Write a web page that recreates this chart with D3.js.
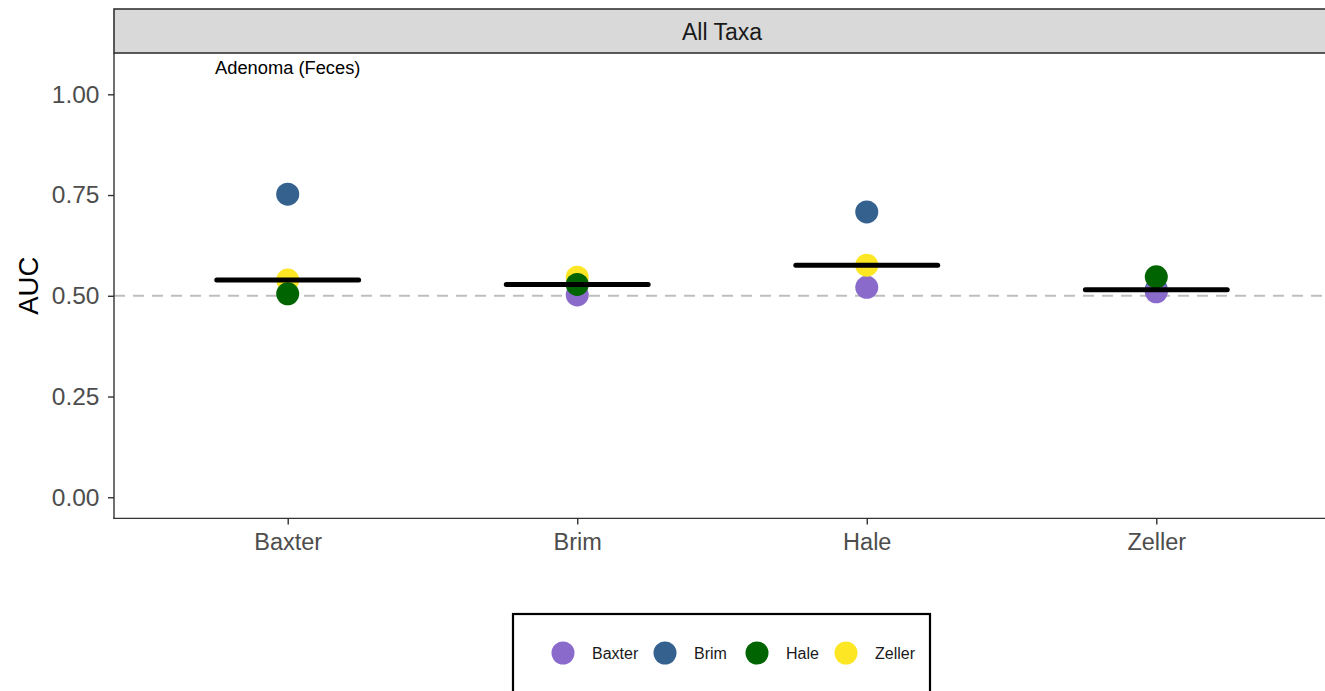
<!DOCTYPE html>
<html>
<head>
<meta charset="utf-8">
<script src="https://cdn.jsdelivr.net/npm/d3@7"></script>
<style>
  html, body { margin: 0; padding: 0; background: #fff; }
  svg { display: block; font-family: "Liberation Sans", Arial, sans-serif; }
</style>
</head>
<body>
<svg id="chart" width="1325" height="691"></svg>
<script>
// Test datasets along the x axis
const testSets = ["Baxter", "Brim", "Hale", "Zeller"];
// Training datasets (colour groups), in drawing order
const trainSets = ["Baxter", "Brim", "Hale", "Zeller"];
const drawOrder = ["Brim", "Baxter", "Zeller", "Hale"];
const trainColors = ["#8a6bcc", "#35618f", "#006400", "#fde725"];

// AUC by training set, one entry per test set (null = same study, not shown)
const aucBaxter = [null, 0.502, 0.521, 0.510];
const aucBrim   = [0.752, null, 0.708, 0.515];
const aucHale   = [0.505, 0.528, null, 0.547];
const aucZeller = [0.539, 0.546, 0.576, null];

const yTicks = [0, 0.25, 0.5, 0.75, 1.0];
const facetLabel = "All Taxa";
const panelNote = "Adenoma (Feces)";
const noteValue = 1.067;
const yLabel = "AUC";

const aucByTrain = { Baxter: aucBaxter, Brim: aucBrim, Hale: aucHale, Zeller: aucZeller };

const svg = d3.select("#chart");
const panel = { left: 114, right: 1330, top: 53, bottom: 518.4 };

const x = d3.scalePoint().domain(testSets).range([panel.left, panel.right]).padding(0.6);
const y = d3.scaleLinear().domain([-0.0525, 1.1025]).range([panel.bottom, panel.top]);
const color = d3.scaleOrdinal().domain(trainSets).range(trainColors);

// Strip header
svg.append("rect")
  .attr("x", panel.left).attr("y", 9)
  .attr("width", panel.right - panel.left + 10).attr("height", panel.top - 9)
  .attr("fill", "#d9d9d9").attr("stroke", "#333333").attr("stroke-width", 1.6);
svg.append("text")
  .attr("x", (panel.left + panel.right) / 2).attr("y", 32)
  .attr("text-anchor", "middle").attr("dominant-baseline", "central")
  .attr("font-size", 23).attr("fill", "#1a1a1a")
  .text(facetLabel);

// Chance reference line
svg.append("line")
  .attr("x1", panel.left).attr("x2", panel.right)
  .attr("y1", y(0.5)).attr("y2", y(0.5))
  .attr("stroke", "#bebebe").attr("stroke-width", 2)
  .attr("stroke-dasharray", "11,8");

// Points
const points = [];
drawOrder.forEach(train => {
  aucByTrain[train].forEach((v, i) => {
    if (v !== null) points.push({ train, test: testSets[i], auc: v });
  });
});
svg.append("g").selectAll("circle").data(points).join("circle")
  .attr("cx", d => x(d.test)).attr("cy", d => y(d.auc))
  .attr("r", 11.5).attr("fill", d => color(d.train));

// Median bars per test set
const medians = testSets.map((t, i) => ({
  test: t,
  med: d3.median(trainSets.map(tr => aucByTrain[tr][i]).filter(v => v !== null))
}));
const halfW = x.step() * 0.245;
svg.append("g").selectAll("line").data(medians).join("line")
  .attr("x1", d => x(d.test) - halfW).attr("x2", d => x(d.test) + halfW)
  .attr("y1", d => y(d.med)).attr("y2", d => y(d.med))
  .attr("stroke", "#000").attr("stroke-width", 5).attr("stroke-linecap", "round");

// Panel note
svg.append("text")
  .attr("x", x("Baxter")).attr("y", y(noteValue))
  .attr("text-anchor", "middle").attr("dominant-baseline", "central")
  .attr("font-size", 18.3).attr("fill", "#000")
  .text(panelNote);

// Y axis
const yAxis = svg.append("g")
  .attr("transform", `translate(${panel.left},0)`)
  .call(d3.axisLeft(y).tickValues(yTicks).tickFormat(d3.format(".2f")).tickSizeOuter(0).tickSize(6).tickPadding(8.5));
yAxis.select(".domain").attr("stroke", "#333333").attr("stroke-width", 1.4)
  .attr("d", `M0,${panel.top}V${panel.bottom + 0.6}`);
yAxis.selectAll(".tick line").attr("stroke", "#333333").attr("stroke-width", 1.4);
yAxis.selectAll(".tick text").attr("font-size", 24.5).attr("fill", "#4d4d4d")
  .attr("font-family", "Liberation Sans, Arial, sans-serif");

// X axis
const xAxis = svg.append("g")
  .attr("transform", `translate(0,${panel.bottom})`)
  .call(d3.axisBottom(x).tickSizeOuter(0).tickSize(6).tickPadding(9));
xAxis.select(".domain").attr("stroke", "#333333").attr("stroke-width", 1.4)
  .attr("d", `M${panel.left - 0.6},0H${panel.right}`);
xAxis.selectAll(".tick line").attr("stroke", "#333333").attr("stroke-width", 1.4);
xAxis.selectAll(".tick text").attr("font-size", 23.5).attr("fill", "#4d4d4d")
  .attr("font-family", "Liberation Sans, Arial, sans-serif");

// Y axis title
svg.append("text")
  .attr("transform", `translate(28,${(panel.top + panel.bottom) / 2}) rotate(-90)`)
  .attr("text-anchor", "middle").attr("dominant-baseline", "central")
  .attr("font-size", 27.5).attr("fill", "#000")
  .text(yLabel);

// Legend
const legend = svg.append("g");
legend.append("rect")
  .attr("x", 513).attr("y", 614).attr("width", 417).attr("height", 90)
  .attr("fill", "#fff").attr("stroke", "#000").attr("stroke-width", 2.2);
const legendX = [563, 665, 757, 846];
const items = legend.selectAll("g.item").data(trainSets).join("g")
  .attr("class", "item")
  .attr("transform", (d, i) => `translate(${legendX[i]},653)`);
items.append("circle").attr("r", 11.5).attr("fill", d => color(d));
items.append("text").attr("x", 29).attr("dominant-baseline", "central")
  .attr("font-size", 16).attr("fill", "#1a1a1a").text(d => d);
</script>
</body>
</html>
